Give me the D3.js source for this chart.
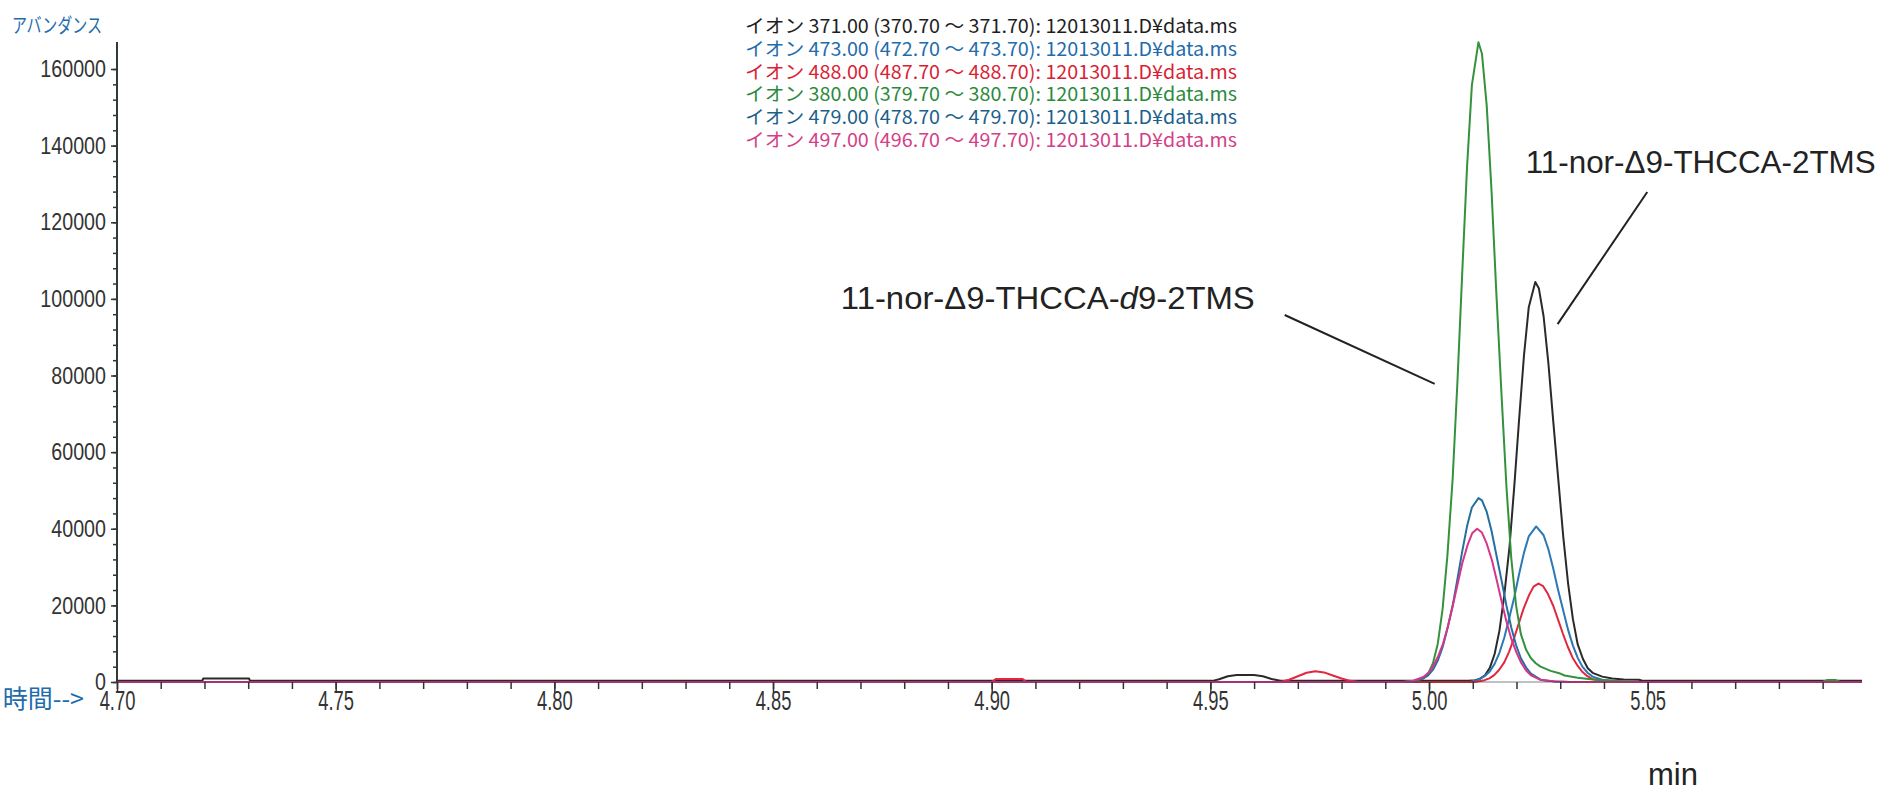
<!DOCTYPE html>
<html>
<head>
<meta charset="utf-8">
<script src="https://cdn.jsdelivr.net/npm/d3@7"></script>
<style>
  body { margin: 0; background: #fff; }
  svg { display: block; font-family: "Liberation Sans", Arial, sans-serif; }
  .jp { font-family: "Noto Sans CJK JP", "Liberation Sans", sans-serif; }
</style>
</head>
<body>
<div id="chart"></div>
<script>
// ion traces: [time (min), abundance]
const ion371 = [[4.700, 300], [4.7195, 300], [4.7197, 900], [4.7302, 900], [4.7304, 300], [4.9505, 300], [4.952, 700], [4.954, 1500], [4.956, 1800], [4.960, 1800], [4.962, 1500], [4.964, 800], [4.966, 300], [5.009, 300], [5.0105, 450], [5.0116, 800], [5.0128, 1750], [5.0139, 3700], [5.0150, 7300], [5.0161, 13400], [5.0172, 22600], [5.0184, 35300], [5.0195, 51200], [5.0206, 68600], [5.0217, 85100], [5.0228, 97800], [5.0243, 104400], [5.0251, 102800], [5.0262, 95400], [5.0273, 83100], [5.0284, 68100], [5.0296, 52300], [5.0307, 37800], [5.0318, 25700], [5.0329, 16400], [5.0340, 9800], [5.0352, 6000], [5.0363, 3600], [5.0374, 2400], [5.0396, 1400], [5.0419, 900], [5.0445, 650], [5.048, 600], [5.049, 300], [5.099, 300]];
const ion473 = [[4.700, 0], [5.0094, 0], [5.0105, 350], [5.0116, 800], [5.0127, 1530], [5.0139, 2770], [5.0150, 4730], [5.0161, 7620], [5.0172, 11550], [5.0183, 16500], [5.0195, 22200], [5.0206, 28200], [5.0217, 33700], [5.0228, 38000], [5.0245, 40600], [5.0262, 38300], [5.0273, 34600], [5.0284, 29600], [5.0295, 24100], [5.0307, 18600], [5.0318, 13600], [5.0329, 9500], [5.0340, 6300], [5.0351, 3950], [5.0363, 2350], [5.0374, 1400], [5.0396, 600], [5.0430, 200], [5.047, 0], [5.099, 0]];
const ion488 = [[4.700, 0], [4.900, 0], [4.901, 800], [4.907, 800], [4.908, 0], [4.966, 0], [4.968, 600], [4.970, 1500], [4.972, 2400], [4.974, 2800], [4.976, 2500], [4.978, 1700], [4.980, 900], [4.982, 300], [4.984, 0], [5.0104, 0], [5.0127, 480], [5.0138, 960], [5.0149, 1790], [5.0160, 3130], [5.0172, 5130], [5.0183, 7870], [5.0194, 11300], [5.0205, 15200], [5.0216, 19100], [5.0228, 22500], [5.0239, 24900], [5.025, 25700], [5.0261, 25000], [5.0272, 22950], [5.0284, 19900], [5.0295, 16300], [5.0306, 12650], [5.0317, 9270], [5.0328, 6410], [5.0340, 4190], [5.0351, 2590], [5.0362, 1510], [5.0373, 800], [5.0396, 300], [5.0429, 0], [5.099, 0]];
const ion380 = [[4.700, 0], [4.994, 0], [4.9964, 100], [4.9986, 900], [4.9998, 2200], [5.0009, 4900], [5.0020, 10000], [5.0031, 19000], [5.0042, 33000], [5.0054, 53000], [5.0065, 78500], [5.0076, 107000], [5.0087, 134600], [5.0098, 155800], [5.0113, 167000], [5.0121, 164000], [5.0132, 150300], [5.0143, 128000], [5.0154, 101300], [5.0166, 74500], [5.0177, 51000], [5.0188, 32400], [5.0199, 20000], [5.0210, 12500], [5.0222, 8400], [5.0233, 6200], [5.0244, 4900], [5.0255, 4000], [5.0278, 2900], [5.0300, 2200], [5.031, 1700], [5.034, 1100], [5.038, 600], [5.042, 300], [5.048, 0], [5.090, 0], [5.091, 500], [5.093, 500], [5.094, 0], [5.099, 0]];
const ion479 = [[4.700, 0], [4.994, 0], [4.9964, 190], [4.9986, 900], [4.9998, 1740], [5.0009, 3220], [5.0020, 5580], [5.0031, 9080], [5.0042, 13900], [5.0054, 19950], [5.0065, 26900], [5.0076, 34150], [5.0087, 40700], [5.0098, 45550], [5.0113, 48000], [5.0121, 47400], [5.0132, 44400], [5.0143, 39400], [5.0154, 33150], [5.0166, 26400], [5.0177, 19900], [5.0188, 14250], [5.0199, 9650], [5.0210, 6200], [5.0222, 3760], [5.0233, 2180], [5.0255, 600], [5.0289, 100], [5.0322, 0], [5.099, 0]];
const ion497 = [[4.700, 0], [4.994, 0], [4.9964, 330], [4.9987, 1300], [4.9998, 2350], [5.0009, 4030], [5.0020, 6520], [5.0032, 9970], [5.0043, 14400], [5.0054, 19700], [5.0065, 25400], [5.0076, 31000], [5.0088, 35700], [5.0099, 38900], [5.011, 40000], [5.0121, 39000], [5.0132, 36100], [5.0144, 31700], [5.0155, 26500], [5.0166, 21000], [5.0177, 15800], [5.0188, 11300], [5.0200, 7660], [5.0211, 4940], [5.0222, 3020], [5.0233, 1760], [5.0256, 510], [5.0289, 100], [5.0323, 0], [5.099, 0]];

const legendLabels = [
  "イオン 371.00 (370.70 ～ 371.70): 12013011.D¥data.ms",
  "イオン 473.00 (472.70 ～ 473.70): 12013011.D¥data.ms",
  "イオン 488.00 (487.70 ～ 488.70): 12013011.D¥data.ms",
  "イオン 380.00 (379.70 ～ 380.70): 12013011.D¥data.ms",
  "イオン 479.00 (478.70 ～ 479.70): 12013011.D¥data.ms",
  "イオン 497.00 (496.70 ～ 497.70): 12013011.D¥data.ms"
];
const traces = [ion371, ion473, ion488, ion380, ion479, ion497];
const lineColors = ["#2a2a2a", "#2a78b6", "#e0283e", "#35923c", "#23709f", "#d6368a"];
const textColors = ["#1e1e1e", "#1f6cac", "#d91f35", "#2a8a3c", "#1c5f8c", "#d43f86"];

const xTicks = [4.70, 4.75, 4.80, 4.85, 4.90, 4.95, 5.00, 5.05];
const yTicks = [0, 20000, 40000, 60000, 80000, 100000, 120000, 140000, 160000];

// annotations: label at [t, abundance], leader line from -> to
const annotations = [
  { parts: ["11-nor-Δ9-THCCA-", "d", "9-2TMS"], len: 414, at: [4.8655, 97400], from: [4.9670, 95800], to: [5.0013, 77800] },
  { parts: ["11-nor-Δ9-THCCA-2TMS"], len: 350, at: [5.0221, 132900], from: [5.0499, 127900], to: [5.0294, 93400] }
];

const margin = { top: 42, right: 21, bottom: 109, left: 117 };
const W = 1883, H = 791;
const width = W - margin.left - margin.right;
const height = H - margin.top - margin.bottom;

const svgRoot = d3.select("#chart").append("svg")
  .attr("width", W)
  .attr("height", H);

const svg = svgRoot.append("g")
  .attr("transform", `translate(${margin.left},${margin.top})`);

const x = d3.scaleLinear().domain([4.70, 5.099]).range([0, width]);
const y = d3.scaleLinear().domain([0, 167050]).range([height, 0]);

// traces
const line = d3.line().x(d => x(d[0])).y(d => y(d[1]));
svg.selectAll("path.trace")
  .data(traces)
  .enter()
  .append("path")
  .attr("class", "trace")
  .attr("fill", "none")
  .attr("stroke", (d, i) => lineColors[i])
  .attr("stroke-width", 2)
  .attr("stroke-linejoin", "round")
  .attr("d", line);

// Eje Y
const yMinor = d3.range(0, 41).map(v => v * 4000);
svg.append("g")
  .call(d3.axisLeft(y).tickValues(yMinor).tickSize(4).tickFormat(""))
  .call(g => g.select(".domain").remove())
  .selectAll("line").attr("stroke", "#333").attr("stroke-width", 1.5);

const yAxis = svg.append("g")
  .call(d3.axisLeft(y).tickValues(yTicks).tickSize(6).tickFormat(d3.format("d")))
  .call(g => g.select(".domain").remove());
yAxis.selectAll("line").attr("stroke", "#333").attr("stroke-width", 1.5);
yAxis.selectAll("text")
  .attr("x", null)
  .attr("transform", "translate(-11,0) scale(0.82,1)")
  .attr("fill", "#333")
  .style("font-size", "24px")
  .style("font-family", "Liberation Sans, Arial, sans-serif");

svg.append("line")
  .attr("x1", 0).attr("x2", 0)
  .attr("y1", y(0)).attr("y2", y(167050))
  .attr("stroke", "#2f3b33")
  .attr("stroke-width", 2);

// Eje X
const xMinor = d3.range(470, 510).map(v => v / 100);
svg.append("g")
  .attr("transform", `translate(0,${height})`)
  .call(d3.axisBottom(x).tickValues(xMinor).tickSize(7).tickFormat(""))
  .call(g => g.select(".domain").remove())
  .selectAll("line").attr("stroke", "#333").attr("stroke-width", 1.5);

const xAxis = svg.append("g")
  .attr("transform", `translate(0,${height})`)
  .call(d3.axisBottom(x).tickValues(xTicks).tickSize(11).tickFormat(d3.format(".2f")))
  .call(g => g.select(".domain").remove());
xAxis.selectAll("line").attr("stroke", "#333").attr("stroke-width", 1.5);
xAxis.selectAll("text")
  .attr("y", 9)
  .attr("transform", "scale(0.68,1)")
  .attr("fill", "#333")
  .style("font-size", "27px")
  .style("font-family", "Liberation Sans, Arial, sans-serif");

svg.append("line")
  .attr("x1", 0).attr("x2", width)
  .attr("y1", height).attr("y2", height)
  .attr("stroke", "#333")
  .attr("stroke-width", 1.2)
  .attr("opacity", 0.6);

// axis titles
svgRoot.append("text")
  .attr("class", "jp")
  .attr("x", 12).attr("y", 33)
  .attr("textLength", 90)
  .attr("lengthAdjust", "spacingAndGlyphs")
  .attr("fill", "#1f6cac")
  .style("font-size", "20px")
  .text("アバンダンス");

svgRoot.append("text")
  .attr("class", "jp")
  .attr("x", 84).attr("y", 708)
  .attr("text-anchor", "end")
  .attr("fill", "#1f6cac")
  .style("font-size", "25px")
  .text("時間-->");

svgRoot.append("text")
  .attr("x", 1673).attr("y", 785)
  .attr("text-anchor", "middle")
  .attr("fill", "#222")
  .style("font-size", "31px")
  .text("min");

// leyenda
const legend = svgRoot.append("g").attr("transform", "translate(745,0)");
legendLabels.forEach((label, i) => {
  legend.append("text")
    .attr("class", "jp")
    .attr("x", 0)
    .attr("y", 33 + i * 22.8)
    .attr("textLength", 492)
    .attr("lengthAdjust", "spacingAndGlyphs")
    .attr("fill", textColors[i])
    .style("font-size", "19px")
    .text(label);
});

// anotaciones
annotations.forEach(a => {
  const t = svg.append("text")
    .attr("x", x(a.at[0]))
    .attr("y", y(a.at[1]))
    .attr("textLength", a.len)
    .attr("lengthAdjust", "spacingAndGlyphs")
    .attr("fill", "#222")
    .style("font-size", "31.5px");
  a.parts.forEach(p => {
    t.append("tspan")
      .style("font-style", p === "d" ? "italic" : "normal")
      .text(p);
  });
  svg.append("line")
    .attr("x1", x(a.from[0])).attr("y1", y(a.from[1]))
    .attr("x2", x(a.to[0])).attr("y2", y(a.to[1]))
    .attr("stroke", "#222")
    .attr("stroke-width", 2);
});
</script>
</body>
</html>
